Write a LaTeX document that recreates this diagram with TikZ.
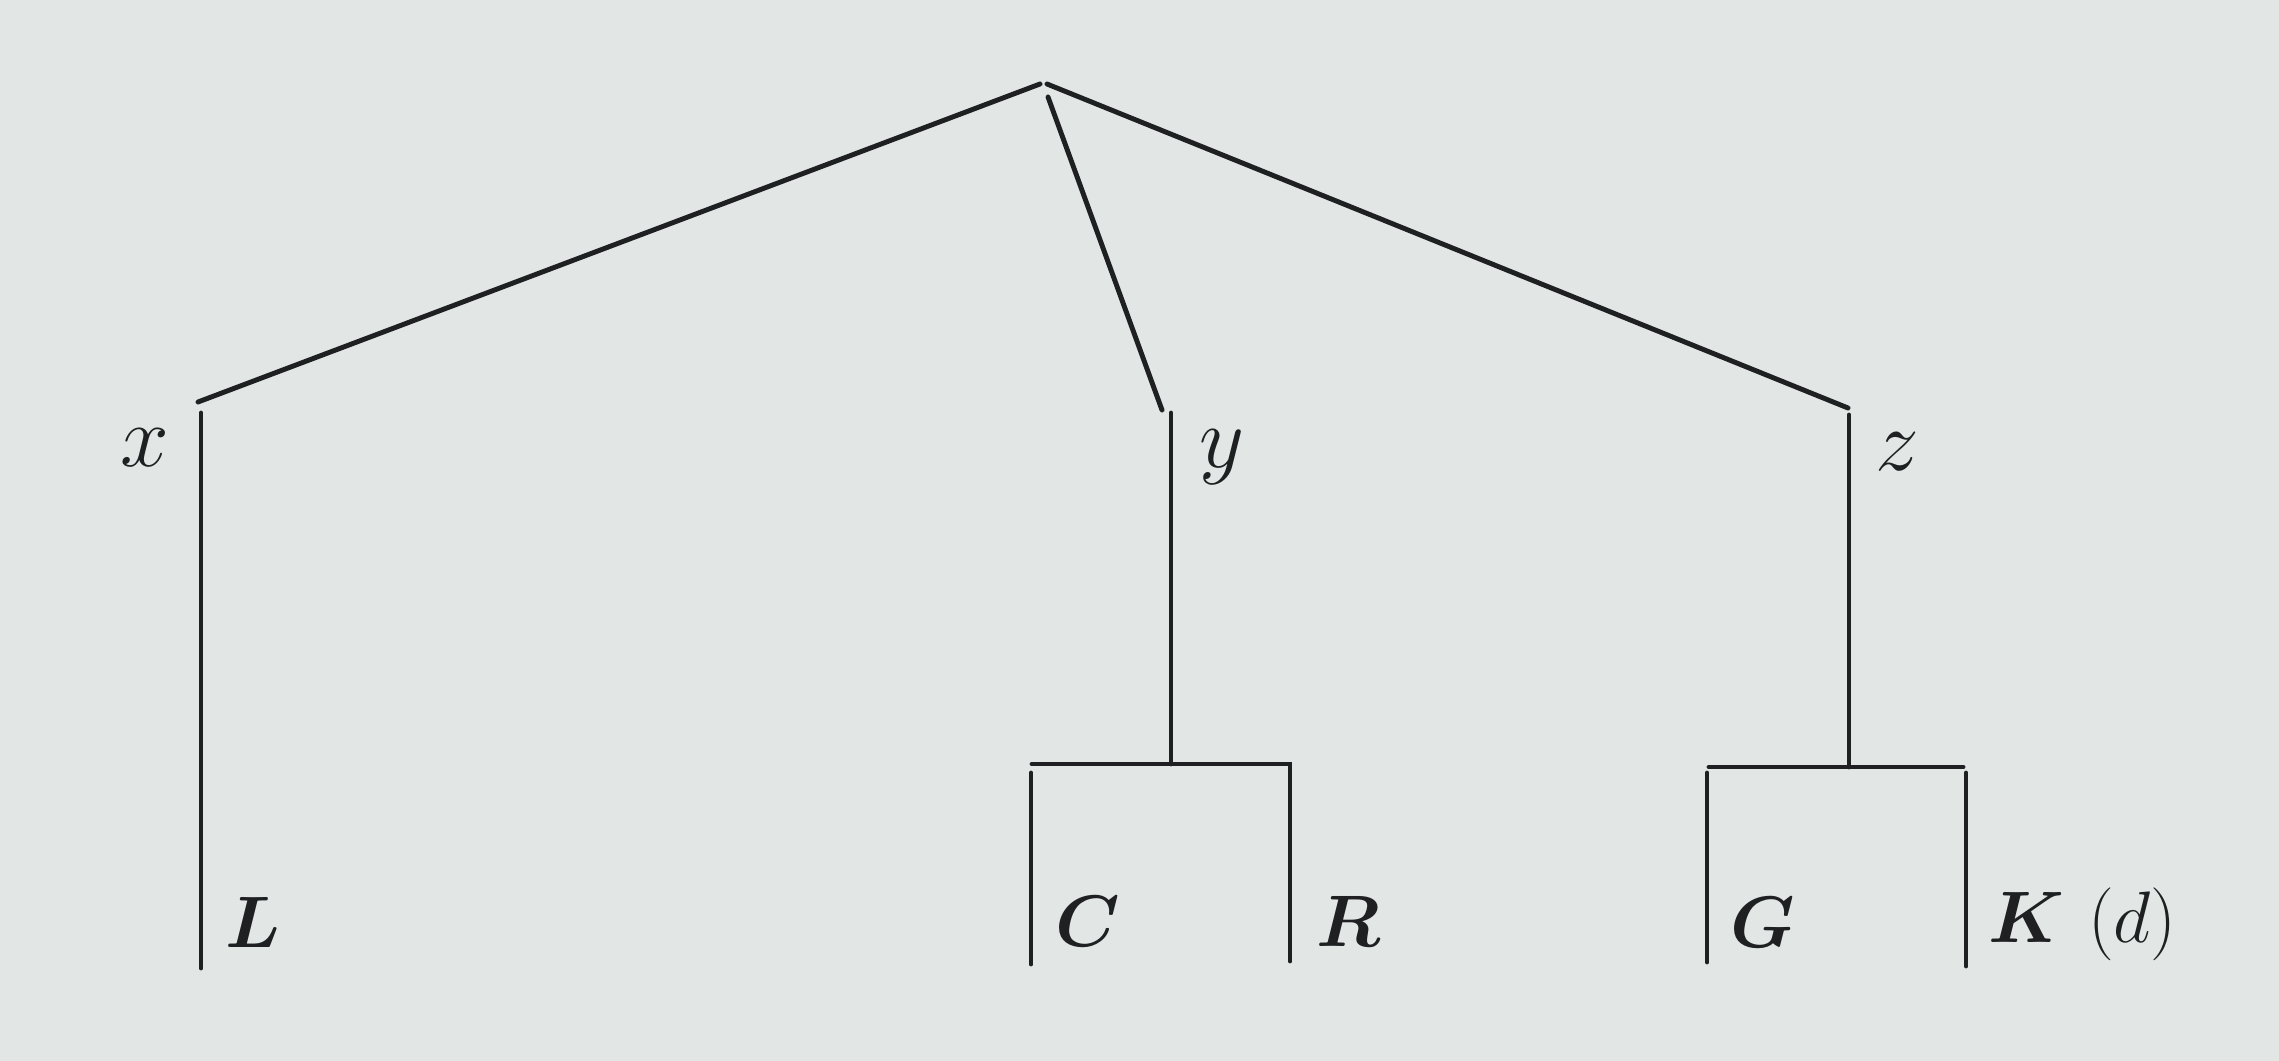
\documentclass[tikz,border=0pt]{standalone}
\usepackage{bm}
\definecolor{paper}{RGB}{226,231,229}
\definecolor{ink}{RGB}{30,32,34}
\begin{document}
\begin{tikzpicture}[x=0.01cm,y=-0.01cm,
  edge/.style={draw=ink,line width=1.4pt,line cap=round},
  lab/.style={inner sep=0pt,text=ink,font=\fontsize{22}{26}\selectfont},
  var/.style={inner sep=0pt,text=ink,font=\fontsize{29}{34}\selectfont}]
\fill[paper] (0,0) rectangle (2279,1061);
\useasboundingbox (0,0) rectangle (2279,1061);
% apex
\coordinate (apexL) at (1040,84);
\coordinate (apexR) at (1047,84);
\coordinate (apexM) at (1048,97);
% x branch
\coordinate (xTop) at (198,402);
\coordinate (xV1) at (201,413);
\coordinate (xV2) at (201,968);
% y branch
\coordinate (yTop) at (1162,410);
\coordinate (yV1) at (1171,413);
\coordinate (yV2) at (1171,764);
% z branch
\coordinate (zTop) at (1848,408);
\coordinate (zV1) at (1849,415);
\coordinate (zV2) at (1849,767);
% C-R bracket
\coordinate (crL) at (1032,764);
\coordinate (crR) at (1290,764);
\coordinate (cV1) at (1031,773);
\coordinate (cV2) at (1031,964);
\coordinate (rV2) at (1290,961);
% G-K bracket
\coordinate (gkL) at (1709,767);
\coordinate (gkR) at (1963,767);
\coordinate (gV1) at (1707,773);
\coordinate (gV2) at (1707,962);
\coordinate (kV1) at (1966,773);
\coordinate (kV2) at (1966,966);

\draw[edge] (apexL) -- (xTop);
\draw[edge] (apexM) -- (yTop);
\draw[edge] (apexR) -- (zTop);
\draw[edge] (xV1) -- (xV2);
\draw[edge] (yV1) -- (yV2);
\draw[edge] (zV1) -- (zV2);
\draw[edge] (crL) -- (crR) -- (rV2);
\draw[edge] (cV1) -- (cV2);
\draw[edge] (gkL) -- (gkR);
\draw[edge] (gV1) -- (gV2);
\draw[edge] (kV1) -- (kV2);

\node[var] (lx) at (145,448) {$x$};
\node[var] (ly) at (1222,457) {$y$};
\node[var] (lz) at (1897,452) {$z$};
\node[lab] (lL) at (253,922) {$\bm{L}$};
\node[lab] (lC) at (1088,921) {$\bm{C}$};
\node[lab] (lR) at (1348,921) {$\bm{R}$};
\node[lab] (lG) at (1763,922) {$\bm{G}$};
\node[lab,anchor=base west] (lK) at (1988,942) {$\bm{K}\ (d)$};
\end{tikzpicture}
\end{document}
